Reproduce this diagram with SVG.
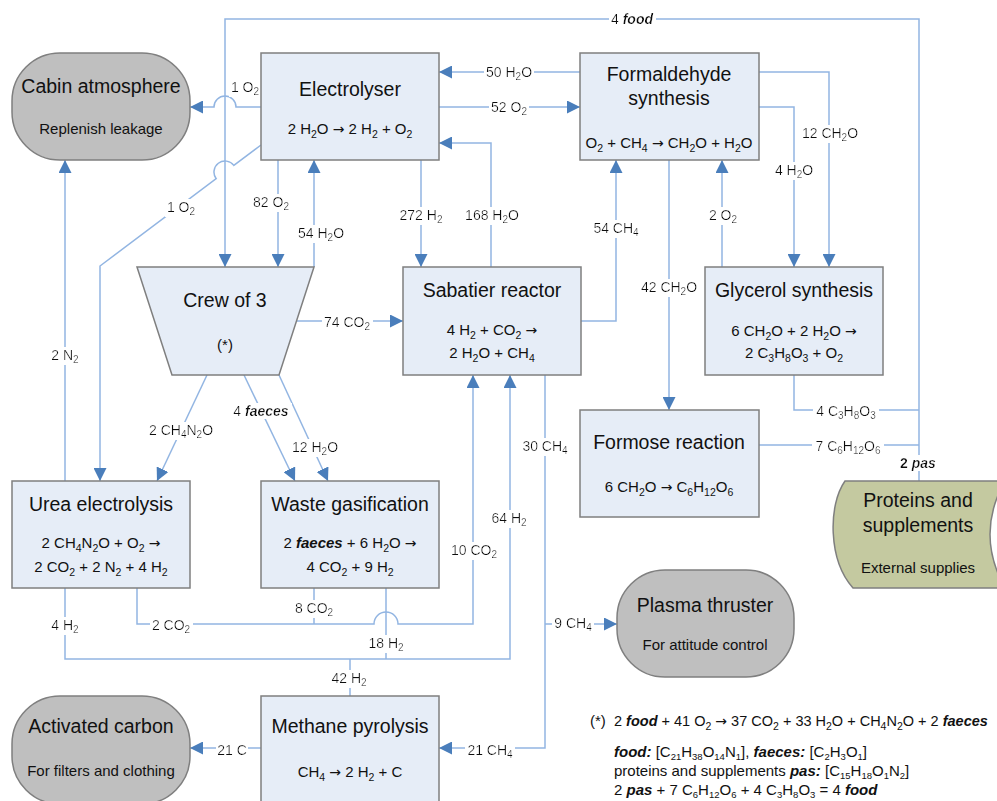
<svg xmlns="http://www.w3.org/2000/svg" width="997" height="801" viewBox="0 0 997 801">
<style>
text{font-family:"Liberation Sans",Arial,sans-serif;fill:#111;text-anchor:middle}
.t{font-size:19.5px}
.e{font-size:15px}
.l{font-size:14px;filter:url(#bg)}
.s{font-size:10px}
.s2{font-size:10.5px}
.s3{font-size:9.5px}
.bi{font-weight:bold;font-style:italic}
.b{font-weight:bold}
.r{font-family:"DejaVu Sans",sans-serif;font-size:14px}
.box{fill:#e6edf7;stroke:#7f7f7f;stroke-width:1.5}
.term{fill:#bfbfbf;stroke:#7f7f7f;stroke-width:1.5}
.sup{fill:#c4c9a0;stroke:#7f7f7f;stroke-width:1.5}
.c path{fill:none;stroke:#92b5e2;stroke-width:1.5}
.a{marker-end:url(#ar)}
.fn{font-size:15px;text-anchor:start}
</style>
<defs>
<marker id="ar" viewBox="0 0 13 13" refX="13" refY="6.5" markerWidth="13" markerHeight="13" markerUnits="userSpaceOnUse" orient="auto"><path d="M0,0L13,6.5L0,13z" fill="#4a7ebb"/></marker>
<filter id="bg" x="-0.04" y="0.05" width="1.08" height="0.9"><feFlood flood-color="#fff"/><feComposite in="SourceGraphic" operator="over"/></filter>
</defs>
<rect width="997" height="801" fill="#fff"/>
<g id="connectors" class="c">
<path class="a" d="M919,481V19H225V267"/>
<path class="a" d="M580,72H439"/>
<path class="a" d="M439,107H580"/>
<path class="a" d="M261,107H236A11,11 0 0 0 214,107H190"/>
<path class="a" d="M261,145L233.8,165.4A11,11 0 0 0 216.2,178.7L100,266V481"/>
<path class="a" d="M278,160V267"/>
<path class="a" d="M314,267V160"/>
<path class="a" d="M421,160V267"/>
<path class="a" d="M491,267V143H439"/>
<path class="a" d="M581,321H616V160"/>
<path class="a" d="M669,160V410"/>
<path class="a" d="M722,267V160"/>
<path class="a" d="M759,107H794V267"/>
<path class="a" d="M759,72H829V267"/>
<path d="M794,375V410H919"/>
<path d="M759,445H919"/>
<path class="a" d="M297,321H403"/>
<path class="a" d="M65,481V160"/>
<path class="a" d="M207,375L157,481"/>
<path class="a" d="M244,375L295,481"/>
<path class="a" d="M279,375L328,481"/>
<path class="a" d="M137,588V624H374A12,12 0 0 1 398,624H473V375"/>
<path d="M314,588V624"/>
<path class="a" d="M65,588V659H510V375"/>
<path d="M386,588V659"/>
<path d="M350,696V659"/>
<path class="a" d="M545,375V748H439"/>
<path class="a" d="M545,624H617"/>
<path class="a" d="M261,748H190"/>
<g id="labels">
<text class="l" x="632" y="24">4 <tspan class="bi">food</tspan></text>
<text class="l" x="245" y="92">1 O<tspan class="s" dy="3">2</tspan></text>
<text class="l" x="509" y="77">50 H<tspan class="s" dy="3">2</tspan><tspan dy="-3">O</tspan></text>
<text class="l" x="509" y="112">52 O<tspan class="s" dy="3">2</tspan></text>
<text class="l" x="830" y="138">12 CH<tspan class="s" dy="3">2</tspan><tspan dy="-3">O</tspan></text>
<text class="l" x="794" y="175">4 H<tspan class="s" dy="3">2</tspan><tspan dy="-3">O</tspan></text>
<text class="l" x="723" y="220">2 O<tspan class="s" dy="3">2</tspan></text>
<text class="l" x="616" y="233">54 CH<tspan class="s" dy="3">4</tspan></text>
<text class="l" x="492" y="220">168 H<tspan class="s" dy="3">2</tspan><tspan dy="-3">O</tspan></text>
<text class="l" x="421" y="220">272 H<tspan class="s" dy="3">2</tspan></text>
<text class="l" x="271" y="207">82 O<tspan class="s" dy="3">2</tspan></text>
<text class="l" x="321" y="238">54 H<tspan class="s" dy="3">2</tspan><tspan dy="-3">O</tspan></text>
<text class="l" x="181" y="212">1 O<tspan class="s" dy="3">2</tspan></text>
<text class="l" x="347" y="327">74 CO<tspan class="s" dy="3">2</tspan></text>
<text class="l" x="65" y="360">2 N<tspan class="s" dy="3">2</tspan></text>
<text class="l" x="181" y="435">2 CH<tspan class="s" dy="3">4</tspan><tspan dy="-3">N</tspan><tspan class="s" dy="3">2</tspan><tspan dy="-3">O</tspan></text>
<text class="l" x="261" y="416">4 <tspan class="bi">faeces</tspan></text>
<text class="l" x="315" y="452">12 H<tspan class="s" dy="3">2</tspan><tspan dy="-3">O</tspan></text>
<text class="l" x="669" y="292">42 CH<tspan class="s" dy="3">2</tspan><tspan dy="-3">O</tspan></text>
<text class="l" x="846" y="416">4 C<tspan class="s" dy="3">3</tspan><tspan dy="-3">H</tspan><tspan class="s" dy="3">8</tspan><tspan dy="-3">O</tspan><tspan class="s" dy="3">3</tspan></text>
<text class="l" x="848" y="451">7 C<tspan class="s" dy="3">6</tspan><tspan dy="-3">H</tspan><tspan class="s" dy="3">12</tspan><tspan dy="-3">O</tspan><tspan class="s" dy="3">6</tspan></text>
<text class="l" x="918" y="468"><tspan class="b">2 </tspan><tspan class="bi">pas</tspan></text>
<text class="l" x="545" y="451">30 CH<tspan class="s" dy="3">4</tspan></text>
<text class="l" x="509" y="523">64 H<tspan class="s" dy="3">2</tspan></text>
<text class="l" x="474" y="555">10 CO<tspan class="s" dy="3">2</tspan></text>
<text class="l" x="573" y="628">9 CH<tspan class="s" dy="3">4</tspan></text>
<text class="l" x="314" y="613">8 CO<tspan class="s" dy="3">2</tspan></text>
<text class="l" x="171" y="630">2 CO<tspan class="s" dy="3">2</tspan></text>
<text class="l" x="65" y="630">4 H<tspan class="s" dy="3">2</tspan></text>
<text class="l" x="386" y="648">18 H<tspan class="s" dy="3">2</tspan></text>
<text class="l" x="349" y="683">42 H<tspan class="s" dy="3">2</tspan></text>
<text class="l" x="232" y="755">21 C</text>
<text class="l" x="490" y="755">21 CH<tspan class="s" dy="3">4</tspan></text>
</g>
</g>
<g id="cabin">
<rect class="term" x="12" y="53" width="178" height="107" rx="48" ry="48"/>
<text class="t" x="101" y="93">Cabin atmosphere</text>
<text class="e" x="101" y="134">Replenish leakage</text>
</g>
<g id="electrolyser">
<rect class="box" x="261" y="53" width="178" height="107"/>
<text class="t" x="350" y="96">Electrolyser</text>
<text class="e" x="350" y="134">2 H<tspan class="s2" dy="3.5">2</tspan><tspan dy="-3.5">O </tspan><tspan class="r">→</tspan> 2 H<tspan class="s2" dy="3.5">2</tspan><tspan dy="-3.5"> + O</tspan><tspan class="s2" dy="3.5">2</tspan></text>
</g>
<g id="formaldehyde">
<rect class="box" x="580" y="53" width="179" height="107"/>
<text class="t" x="669" y="81">Formaldehyde</text>
<text class="t" x="669" y="105">synthesis</text>
<text class="e" x="669" y="148">O<tspan class="s2" dy="3.5">2</tspan><tspan dy="-3.5"> + CH</tspan><tspan class="s2" dy="3.5">4</tspan><tspan dy="-3.5"> </tspan><tspan class="r">→</tspan> CH<tspan class="s2" dy="3.5">2</tspan><tspan dy="-3.5">O + H</tspan><tspan class="s2" dy="3.5">2</tspan><tspan dy="-3.5">O</tspan></text>
</g>
<g id="crew">
<path class="box" d="M137,267H314L279,375H172Z"/>
<text class="t" x="225" y="307">Crew of 3</text>
<text class="e" x="225" y="350">(*)</text>
</g>
<g id="sabatier">
<rect class="box" x="403" y="267" width="178" height="108"/>
<text class="t" x="492" y="297">Sabatier reactor</text>
<text class="e" x="492" y="335">4 H<tspan class="s2" dy="3.5">2</tspan><tspan dy="-3.5"> + CO</tspan><tspan class="s2" dy="3.5">2</tspan><tspan dy="-3.5"> </tspan><tspan class="r">→</tspan></text>
<text class="e" x="492" y="358">2 H<tspan class="s2" dy="3.5">2</tspan><tspan dy="-3.5">O + CH</tspan><tspan class="s2" dy="3.5">4</tspan></text>
</g>
<g id="glycerol">
<rect class="box" x="705" y="267" width="178" height="108"/>
<text class="t" x="794" y="297">Glycerol synthesis</text>
<text class="e" x="794" y="336">6 CH<tspan class="s2" dy="3.5">2</tspan><tspan dy="-3.5">O + 2 H</tspan><tspan class="s2" dy="3.5">2</tspan><tspan dy="-3.5">O </tspan><tspan class="r">→</tspan></text>
<text class="e" x="794" y="358">2 C<tspan class="s2" dy="3.5">3</tspan><tspan dy="-3.5">H</tspan><tspan class="s2" dy="3.5">8</tspan><tspan dy="-3.5">O</tspan><tspan class="s2" dy="3.5">3</tspan><tspan dy="-3.5"> + O</tspan><tspan class="s2" dy="3.5">2</tspan></text>
</g>
<g id="urea">
<rect class="box" x="12" y="481" width="178" height="107"/>
<text class="t" x="101" y="511">Urea electrolysis</text>
<text class="e" x="101" y="548">2 CH<tspan class="s2" dy="3.5">4</tspan><tspan dy="-3.5">N</tspan><tspan class="s2" dy="3.5">2</tspan><tspan dy="-3.5">O + O</tspan><tspan class="s2" dy="3.5">2</tspan><tspan dy="-3.5"> </tspan><tspan class="r">→</tspan></text>
<text class="e" x="101" y="572">2 CO<tspan class="s2" dy="3.5">2</tspan><tspan dy="-3.5"> + 2 N</tspan><tspan class="s2" dy="3.5">2</tspan><tspan dy="-3.5"> + 4 H</tspan><tspan class="s2" dy="3.5">2</tspan></text>
</g>
<g id="waste">
<rect class="box" x="261" y="481" width="178" height="107"/>
<text class="t" x="350" y="511">Waste gasification</text>
<text class="e" x="350" y="548">2 <tspan class="bi">faeces</tspan> + 6 H<tspan class="s2" dy="3.5">2</tspan><tspan dy="-3.5">O </tspan><tspan class="r">→</tspan></text>
<text class="e" x="350" y="572">4 CO<tspan class="s2" dy="3.5">2</tspan><tspan dy="-3.5"> + 9 H</tspan><tspan class="s2" dy="3.5">2</tspan></text>
</g>
<g id="formose">
<rect class="box" x="580" y="410" width="179" height="107"/>
<text class="t" x="669" y="449">Formose reaction</text>
<text class="e" x="669" y="492">6 CH<tspan class="s2" dy="3.5">2</tspan><tspan dy="-3.5">O </tspan><tspan class="r">→</tspan> C<tspan class="s2" dy="3.5">6</tspan><tspan dy="-3.5">H</tspan><tspan class="s2" dy="3.5">12</tspan><tspan dy="-3.5">O</tspan><tspan class="s2" dy="3.5">6</tspan></text>
</g>
<g id="proteins">
<path class="sup" d="M845,481H1005Q975,534 1005,588H853C828,560 828,505 845,481Z"/>
<text class="t" x="918" y="507">Proteins and</text>
<text class="t" x="918" y="532">supplements</text>
<text class="e" x="918" y="573">External supplies</text>
</g>
<g id="plasma">
<rect class="term" x="617" y="570" width="177" height="107" rx="48" ry="48"/>
<text class="t" x="705" y="612">Plasma thruster</text>
<text class="e" x="705" y="650">For attitude control</text>
</g>
<g id="methane">
<rect class="box" x="261" y="696" width="178" height="108"/>
<text class="t" x="350" y="733">Methane pyrolysis</text>
<text class="e" x="350" y="777">CH<tspan class="s2" dy="3.5">4</tspan><tspan dy="-3.5"> </tspan><tspan class="r">→</tspan> 2 H<tspan class="s2" dy="3.5">2</tspan><tspan dy="-3.5"> + C</tspan></text>
</g>
<g id="carbon">
<rect class="term" x="12" y="696" width="178" height="108" rx="48" ry="48"/>
<text class="t" x="101" y="733">Activated carbon</text>
<text class="e" x="101" y="776">For filters and clothing</text>
</g>
<g id="footnote">
<text class="fn" x="590" y="726">(*)</text>
<text class="fn" x="614" y="726" style="font-size:14.5px">2 <tspan class="bi">food</tspan> + 41 O<tspan class="s2" dy="3.5">2</tspan><tspan dy="-3.5"> </tspan><tspan class="r">→</tspan> 37 CO<tspan class="s2" dy="3.5">2</tspan><tspan dy="-3.5"> + 33 H</tspan><tspan class="s2" dy="3.5">2</tspan><tspan dy="-3.5">O + CH</tspan><tspan class="s2" dy="3.5">4</tspan><tspan dy="-3.5">N</tspan><tspan class="s2" dy="3.5">2</tspan><tspan dy="-3.5">O + 2 </tspan><tspan class="bi">faeces</tspan></text>
<text class="fn" x="614" y="757"><tspan class="bi">food:</tspan> [C<tspan class="s3" dy="2.5">21</tspan><tspan dy="-2.5">H</tspan><tspan class="s3" dy="2.5">38</tspan><tspan dy="-2.5">O</tspan><tspan class="s3" dy="2.5">14</tspan><tspan dy="-2.5">N</tspan><tspan class="s3" dy="2.5">1</tspan><tspan dy="-2.5">], </tspan><tspan class="bi">faeces:</tspan> [C<tspan class="s3" dy="2.5">2</tspan><tspan dy="-2.5">H</tspan><tspan class="s3" dy="2.5">3</tspan><tspan dy="-2.5">O</tspan><tspan class="s3" dy="2.5">1</tspan><tspan dy="-2.5">]</tspan></text>
<text class="fn" x="614" y="776">proteins and supplements <tspan class="bi">pas:</tspan> [C<tspan class="s3" dy="2.5">15</tspan><tspan dy="-2.5">H</tspan><tspan class="s3" dy="2.5">18</tspan><tspan dy="-2.5">O</tspan><tspan class="s3" dy="2.5">1</tspan><tspan dy="-2.5">N</tspan><tspan class="s3" dy="2.5">2</tspan><tspan dy="-2.5">]</tspan></text>
<text class="fn" x="614" y="795">2 <tspan class="bi">pas</tspan> + 7 C<tspan class="s3" dy="2.5">6</tspan><tspan dy="-2.5">H</tspan><tspan class="s3" dy="2.5">12</tspan><tspan dy="-2.5">O</tspan><tspan class="s3" dy="2.5">6</tspan><tspan dy="-2.5"> + 4 C</tspan><tspan class="s3" dy="2.5">3</tspan><tspan dy="-2.5">H</tspan><tspan class="s3" dy="2.5">8</tspan><tspan dy="-2.5">O</tspan><tspan class="s3" dy="2.5">3</tspan><tspan dy="-2.5"> = 4 </tspan><tspan class="bi">food</tspan></text>
</g>
</svg>
